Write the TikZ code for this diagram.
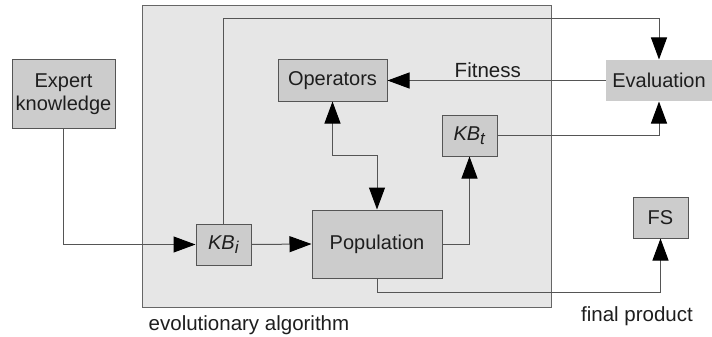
\documentclass[tikz,border=0pt]{standalone}
\usepackage{fontspec}
\setmainfont{Liberation Sans}
\usepackage{tikz}
\usetikzlibrary{arrows.meta, positioning, calc}
\definecolor{eagray}{RGB}{230,230,230}
\definecolor{boxgray}{RGB}{204,204,204}
\definecolor{linegray}{RGB}{85,85,85}
\definecolor{txtgray}{RGB}{30,30,30}
\newcommand{\kbsub}[1]{\textit{KB}\raisebox{-4pt}{\fontsize{17}{17}\selectfont\textit{#1}}}
\tikzset{
  block/.style={draw=linegray, line width=1pt, fill=boxgray, inner sep=0pt,
    align=center, text=txtgray, font=\fontsize{20}{23}\selectfont},
  tip/.tip={Triangle[length=22pt,width=16pt,black]},
  conn/.style={draw=linegray, line width=1pt, -tip},
  lbl/.style={text=txtgray, font=\fontsize{20.5}{23}\selectfont}
}

\begin{document}
\begin{tikzpicture}[x=1pt,y=-1pt]
\useasboundingbox (0,0) rectangle (712,337);
% evolutionary algorithm frame
\draw[draw=linegray!90, line width=1pt, fill=eagray] (142,6) rectangle (551,307);
\node[lbl] (ealabel) at (249,325) {evolutionary algorithm};
\node[lbl] (fplabel) at (637,316) {final product};

% Boxes
\node[block, minimum width=103pt, minimum height=68pt] (expert) at (63.5,94) {Expert\\knowledge};
\node[block, minimum width=55pt, minimum height=41pt] (kbi) at (223.5,244.5) {\kbsub{i}};
\node[block, minimum width=130pt, minimum height=68pt] (pop) at (377,244) {Population};
\node[block, minimum width=109pt, minimum height=41pt] (ops) at (332.5,80.5) {Operators};
\node[block, minimum width=55pt, minimum height=41pt] (kbt) at (469.5,135.5) {\kbsub{t}};
\node[block, draw=none, minimum width=106pt, minimum height=41pt] (eval) at (659,80.5) {Evaluation};
\node[block, minimum width=55pt, minimum height=41pt] (fs) at (660.5,217.5) {FS};

% helper levels
\coordinate (toplevel) at (0,19);
\coordinate (midlevel) at (0,155);
\coordinate (botlevel) at (0,292);

% Connectors
\draw[conn] (expert.south) |- (kbi.west);
\draw[conn] (kbi.north) -- (kbi.north |- toplevel) -| (eval.north);
\draw[conn] (kbi.east) -- (pop.west);
\draw[conn, tip-tip] (ops.south) -- (ops.south |- midlevel) -| (pop.north);
\draw[conn] (pop.east) -| (kbt.south);
\draw[conn] (kbt.east) -| (eval.south);
\draw[conn] (eval.west) -- node[lbl, above, pos=0.54, yshift=-1pt] (fitness) {Fitness} (ops.east);
\draw[conn] (pop.south) -- (pop.south |- botlevel) -| (fs.south);
\end{tikzpicture}
\end{document}
